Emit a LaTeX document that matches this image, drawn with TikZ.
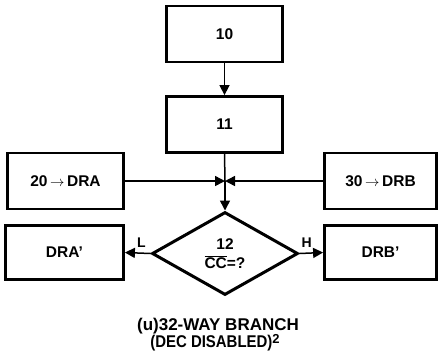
\documentclass[tikz,border=0pt]{standalone}
\usepackage{fontspec}
\setmainfont{Liberation Sans}
\usetikzlibrary{arrows.meta,shapes.geometric}
\begin{document}
\begin{tikzpicture}[x=1pt,y=-1pt,
  txt/.style={font=\fontsize{15.5}{18}\selectfont\bfseries},
  box/.style={txt,draw,line width=2.8pt,inner sep=0pt,minimum width=116pt,minimum height=56pt},
  conn/.style={line width=1.5pt,-{Triangle[length=10pt,width=10pt]}},
  plainline/.style={line width=1.5pt},
  lbl/.style={font=\fontsize{14}{16}\selectfont\bfseries,inner sep=0pt},
  captxt/.style={font=\fontsize{17}{20}\selectfont\bfseries,inner sep=0pt,anchor=base}]
\useasboundingbox (0,0) rectangle (438,360);
\node[box] (b10) at (224.5,34) {10};
\node[box] (b11) at (224.5,124.5) {11};
\node[box] (b20) at (65.5,181) {20\,$\rightarrow$\,DRA};
\node[box,minimum width=112pt] (b30) at (380.5,181) {30\,$\rightarrow$\,DRB};
\node[box,minimum width=118pt,minimum height=54pt] (dra) at (64.5,252.5) {DRA’};
\node[box,minimum width=112pt,minimum height=54pt] (drb) at (380.5,252.5) {DRB’};
\node[txt,draw,line width=3pt,shape=diamond,inner sep=0pt,minimum width=146pt,minimum height=83pt,align=center] (d) at (225,253.5)
  {12\\[1pt]$\overline{\hbox{CC}}$=?};
\coordinate (j) at (225,181);
\draw[conn] (b10) -- (b11);
\draw[plainline] (b11.south) -- (j);
\draw[conn] (j) -- (d.north);
\draw[conn] (b20.east) -- (j);
\draw[conn] (b30.west) -- (j);
\draw[conn] (d.west) -- (dra.east) node[lbl,pos=0.36,above=5pt] (l) {L};
\draw[conn] (d.east) -- (drb.west) node[lbl,pos=0.3,above=5pt] (h) {H};
\node[captxt] (c1) at (218,330) {(u)32-WAY BRANCH};
\node[captxt] (c2) at (215,347) {\scalebox{0.88}[1]{(DEC DISABLED)}\raisebox{4pt}{\fontsize{13}{13}\selectfont 2}};
\end{tikzpicture}
\end{document}
